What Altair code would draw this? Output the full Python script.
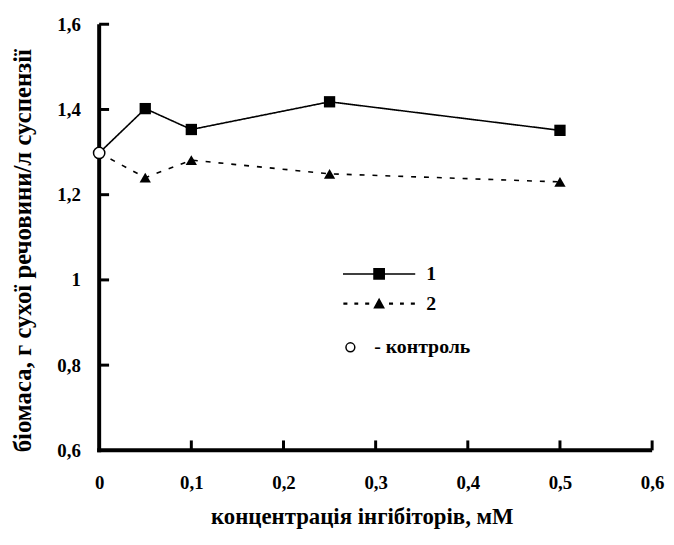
import altair as alt
import pandas as pd

# ---- data ----
x_vals = [0, 0.05, 0.1, 0.25, 0.5]
series1 = [1.298, 1.402, 1.353, 1.418, 1.351]
series2 = [1.298, 1.240, 1.281, 1.249, 1.230]
control_x = [0]
control_y = [1.298]
series_names = ["1", "2"]
control_label = ["- контроль"]
x_ticks = [0.1, 0.2, 0.3, 0.4, 0.5, 0.6]
y_ticks = [0.8, 1.0, 1.2, 1.4, 1.6]
x_axis_values = [0, 0.1, 0.2, 0.3, 0.4, 0.5, 0.6]
y_axis_values = [0.6, 0.8, 1.0, 1.2, 1.4, 1.6]
x_range = [0, 0.6]
y_range = [0.6, 1.6]

W, H = 558, 430
FONT = "Liberation Serif"

rows = []
for name, ys in zip(series_names, [series1, series2]):
    for xv, yv in zip(x_vals, ys):
        rows.append({"x": xv, "y": yv, "series": name})
df = pd.DataFrame(rows)
df_ctrl = pd.DataFrame({"x": control_x, "y": control_y, "lab": control_label})
df_xt = pd.DataFrame({"x": x_ticks})
df_yt = pd.DataFrame({"y": y_ticks})
df_xaxis = pd.DataFrame({"y": [y_range[0]]})
df_yaxis = pd.DataFrame({"x": [x_range[0]]})

xscale = alt.Scale(domain=x_range, nice=False, zero=False)
yscale = alt.Scale(domain=y_range, nice=False, zero=False)
lab_expr = "replace(format(datum.value, '.1~f'), '.', ',')"

x_axis = alt.Axis(values=x_axis_values, labelExpr=lab_expr, tickSize=0, grid=False,
                  domain=False,
                  labelFont=FONT, labelFontWeight="bold", labelFontSize=19,
                  labelColor="black", labelPadding=24, labelFlush=False,
                  title="концентрація інгібіторів, мМ", titleFont=FONT,
                  titleFontWeight="bold", titleFontSize=23, titleColor="black",
                  titlePadding=13, titleX=265, titleAlign="center")
y_axis = alt.Axis(values=y_axis_values, labelExpr=lab_expr, tickSize=0, grid=False,
                  domain=False,
                  labelFont=FONT, labelFontWeight="bold", labelFontSize=19,
                  labelColor="black", labelPadding=19, labelFlush=False,
                  title="біомаса, г сухої речовини/л суспензії", titleFont=FONT,
                  titleFontWeight="bold", titleFontSize=25, titleColor="black",
                  titlePadding=22, titleY=228, titleAlign="center")


def X():
    return alt.X("x:Q", scale=xscale, axis=x_axis)


def Y():
    return alt.Y("y:Q", scale=yscale, axis=y_axis)


# axis lines drawn like the ticks: one scaled position, pixel extent along the plot
axis_x_line = alt.Chart(df_xaxis).mark_rule(color="black", strokeWidth=4).encode(
    y=Y(), x=alt.value(-2), x2=alt.value(W)
)
axis_y_line = alt.Chart(df_yaxis).mark_rule(color="black", strokeWidth=4).encode(
    x=X(), y=alt.value(0), y2=alt.value(H + 2)
)

lines = alt.Chart(df).mark_line(color="black", strokeWidth=1.6).encode(
    x=X(), y=Y(),
    strokeDash=alt.StrokeDash("series:N",
                              scale=alt.Scale(domain=series_names, range=[[1, 0], [5, 8]]),
                              legend=None),
    detail="series:N",
)

points = alt.Chart(df).transform_filter("datum.x > 0").mark_point(
    filled=True, color="black", opacity=1, size=130
).encode(
    x=X(), y=Y(),
    shape=alt.Shape("series:N",
                    scale=alt.Scale(domain=series_names, range=["square", "triangle-up"]),
                    legend=None),
)

ctrl = alt.Chart(df_ctrl).mark_point(
    shape="circle", fill="white", fillOpacity=1, opacity=1, strokeWidth=1.5, size=130
).encode(
    x=X(), y=Y(),
    stroke=alt.Stroke("lab:N", scale=alt.Scale(domain=control_label, range=["black"]),
                      legend=alt.Legend(orient="none", legendX=243.5, legendY=316,
                                        title=None, symbolType="circle", symbolSize=80,
                                        symbolFillColor="white", symbolStrokeColor="black",
                                        symbolStrokeWidth=1.5, symbolOpacity=1,
                                        labelFont=FONT, labelFontWeight="bold",
                                        labelFontSize=20, labelColor="black",
                                        labelOffset=14, padding=0)),
)

xt = alt.Chart(df_xt).mark_rule(color="black", strokeWidth=3).encode(
    x=X(), y=alt.value(H), y2=alt.value(H - 10),
)
yt = alt.Chart(df_yt).mark_rule(color="black", strokeWidth=3).encode(
    y=Y(), x=alt.value(0), x2=alt.value(10),
)

# legend symbols: line (thin filled bar) + marker, in unit coordinates
path1 = "M-1.97,-0.045H1.97V0.045H-1.97ZM-0.32,-0.32H0.32V0.32H-0.32Z"
path2 = ("M-1.95,-0.06H-1.73V0.06H-1.95Z"
         "M-1.35,-0.06H-1.14V0.06H-1.35Z"
         "M-0.76,-0.06H-0.54V0.06H-0.76Z"
         "M0.54,-0.06H0.76V0.06H0.54Z"
         "M1.14,-0.06H1.35V0.06H1.14Z"
         "M1.73,-0.06H1.95V0.06H1.73Z"
         "M0,-0.32L0.32,0.26H-0.32Z")

legend_layer = alt.Chart(df).transform_filter("false").mark_point(
    fill="black", stroke="black", strokeWidth=1.5, fillOpacity=1, strokeOpacity=1, opacity=1
).encode(
    x=X(), y=Y(),
    shape=alt.Shape("series:N",
                    scale=alt.Scale(domain=series_names, range=[path1, path2]),
                    legend=alt.Legend(orient="none", legendX=263, legendY=232.5,
                                      title=None, symbolSize=1369,
                                      symbolFillColor="black", symbolStrokeColor="black",
                                      symbolStrokeWidth=1.5, symbolOpacity=1,
                                      labelFont=FONT, labelFontWeight="bold",
                                      labelFontSize=20, labelColor="black",
                                      labelOffset=28, rowPadding=0, padding=0)),
)

chart = alt.layer(lines, axis_x_line, axis_y_line, xt, yt, points, ctrl, legend_layer).resolve_scale(
    shape="independent"
).properties(
    width=W, height=H,
    background="white",
    autosize=alt.AutoSizeParams(type="none"),
    padding={"left": 92, "top": 14, "right": 14, "bottom": 80},
).configure_view(stroke="transparent", strokeWidth=0).configure_axis(domain=False)

chart.save("out.html", embed_options={"renderer": "svg", "actions": False})
